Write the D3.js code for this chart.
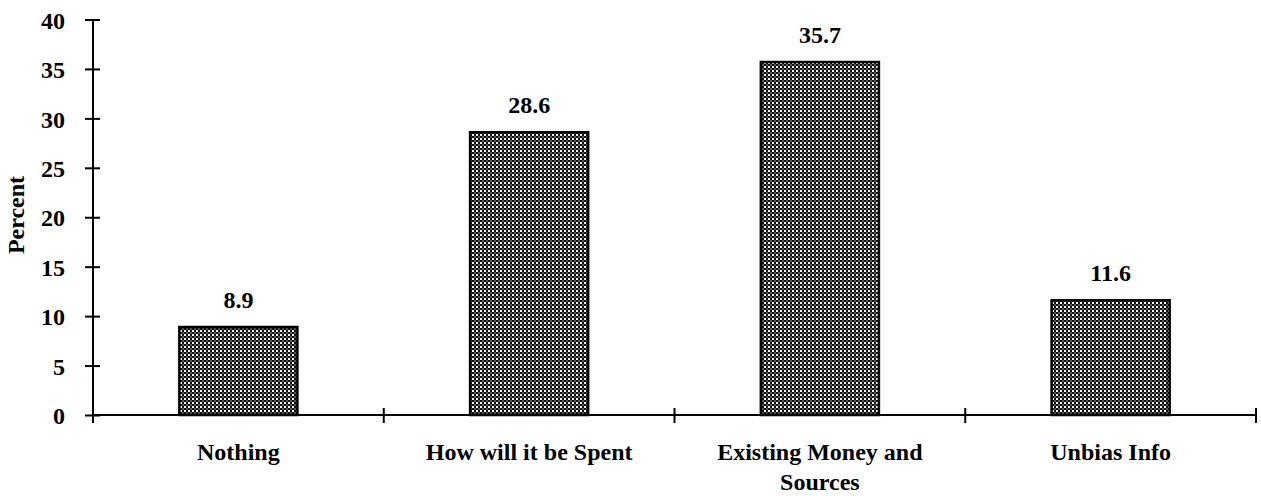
<!DOCTYPE html>
<html>
<head>
<meta charset="utf-8">
<script src="https://cdn.jsdelivr.net/npm/d3@7"></script>
<style>
  html, body { margin: 0; padding: 0; background: #fff; }
  svg { display: block; }
  text { font-family: "Liberation Serif", "Times New Roman", serif; font-weight: bold; fill: #000; }
</style>
</head>
<body>
<svg id="chart" width="1261" height="496"></svg>
<script>
const categories = ["Nothing", "How will it be Spent", "Existing Money and Sources", "Unbias Info"];
const categoryLines = [["Nothing"], ["How will it be Spent"], ["Existing Money and", "Sources"], ["Unbias Info"]];
const values = [8.9, 28.6, 35.7, 11.6];
const yTicks = [0, 5, 10, 15, 20, 25, 30, 35, 40];
const yLabel = "Percent";

const svg = d3.select("#chart");
const x0 = 93, x1 = 1256, yTop = 19.5, yBottom = 415;

const x = d3.scaleBand().domain(categories).range([x0, x1]).padding(0);
const y = d3.scaleLinear().domain([0, 40]).range([yBottom, yTop]);
const barW = x.bandwidth() * 0.406;

// pattern
const defs = svg.append("defs");
const pat = defs.append("pattern").attr("id", "dots").attr("patternUnits", "userSpaceOnUse")
  .attr("width", 4).attr("height", 4);
pat.append("rect").attr("width", 4).attr("height", 4).attr("fill", "#f4f4f4");
pat.append("rect").attr("x", 0).attr("y", 0).attr("width", 2).attr("height", 2).attr("fill", "#111");
pat.append("rect").attr("x", 2).attr("y", 2).attr("width", 2).attr("height", 2).attr("fill", "#111");
pat.append("rect").attr("x", 2).attr("y", 0).attr("width", 2).attr("height", 2).attr("fill", "#555");

// bars
svg.append("g").selectAll("rect").data(values).join("rect")
  .attr("x", (d, i) => x(categories[i]) + x.bandwidth() / 2 - barW / 2)
  .attr("y", d => y(d))
  .attr("width", barW)
  .attr("height", d => y(0) - y(d))
  .attr("fill", "url(#dots)")
  .attr("stroke", "#000")
  .attr("stroke-width", 2.5);

// value labels
svg.append("g").selectAll("text").data(values).join("text")
  .attr("x", (d, i) => x(categories[i]) + x.bandwidth() / 2)
  .attr("y", d => y(d) - 19)
  .attr("text-anchor", "middle")
  .style("font-size", "24px")
  .text(d => d.toFixed(1));

// y axis
const yAxis = svg.append("g").attr("transform", `translate(${x0},0)`)
  .call(d3.axisLeft(y).tickValues(yTicks).tickSizeOuter(0).tickSizeInner(8).tickPadding(20));
yAxis.select(".domain").remove();
yAxis.selectAll(".tick line").attr("x1", 7).attr("x2", -8).attr("stroke", "#000").attr("stroke-width", 2);
yAxis.selectAll(".tick text").style("font-size", "24px").attr("font-family", null).attr("dy", "0.36em");
svg.append("line").attr("x1", x0).attr("x2", x0).attr("y1", y(40)).attr("y2", y(0) + 8)
  .attr("stroke", "#000").attr("stroke-width", 2);

// x axis line
svg.append("line").attr("x1", x0).attr("x2", x1).attr("y1", y(0)).attr("y2", y(0))
  .attr("stroke", "#000").attr("stroke-width", 2);
// x category ticks at boundaries
const bounds = categories.slice(1).map(c => x(c)).concat([x1]);
svg.append("g").selectAll("line").data(bounds).join("line")
  .attr("x1", d => d).attr("x2", d => d)
  .attr("y1", y(0) - 7).attr("y2", y(0) + 8)
  .attr("stroke", "#000").attr("stroke-width", 2);

// category labels
const cl = svg.append("g").selectAll("text").data(categoryLines).join("text")
  .attr("x", (d, i) => x(categories[i]) + x.bandwidth() / 2)
  .attr("y", 460)
  .attr("text-anchor", "middle")
  .style("font-size", "24px");
cl.selectAll("tspan").data(d => d).join("tspan")
  .attr("x", function () { return d3.select(this.parentNode).attr("x"); })
  .attr("dy", (d, i) => i === 0 ? 0 : 30)
  .text(d => d);

// y label
svg.append("text")
  .attr("transform", `translate(24,215) rotate(-90)`)
  .attr("text-anchor", "middle")
  .style("font-size", "24px")
  .text(yLabel);
</script>
</body>
</html>
